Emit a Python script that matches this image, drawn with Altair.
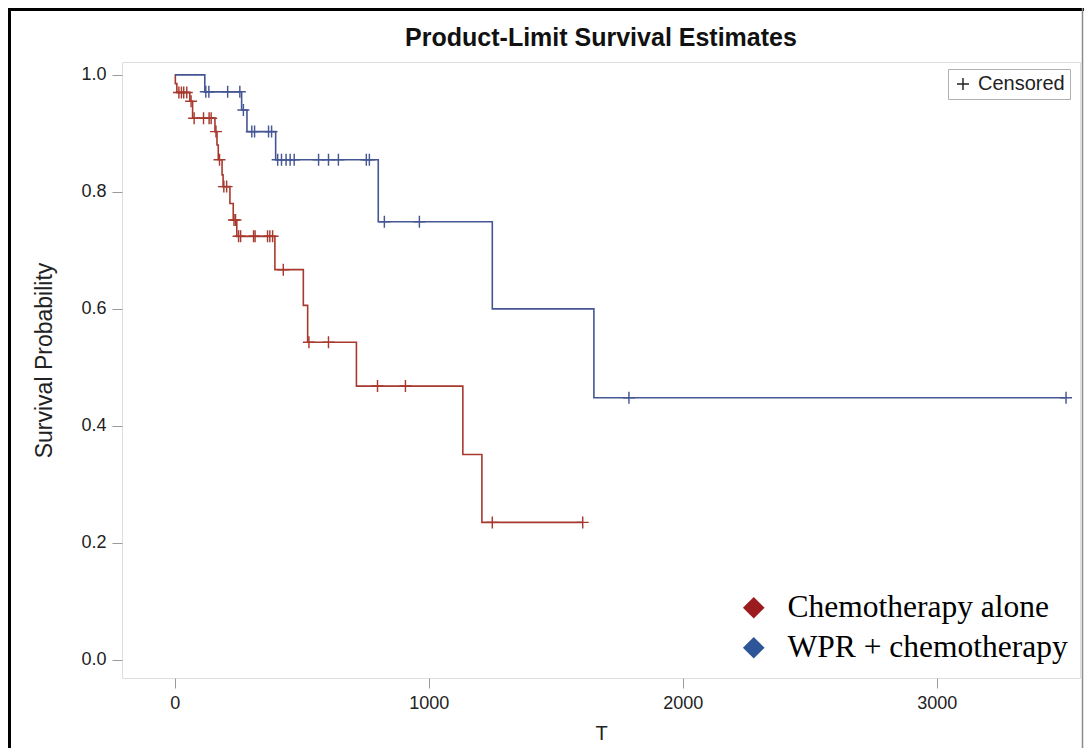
import altair as alt
import pandas as pd

# ---------------- data ----------------
groups = ["Chemotherapy alone", "WPR + chemotherapy"]
line_colors = ["#A8392E", "#445694"]
legend_colors = ["#9B1B1E", "#2E5597"]

# Chemotherapy alone: event times and survival after each event
red_event_t = [2, 8, 59, 70, 158, 166, 171, 186, 190, 217, 230, 244, 394, 506, 523, 715, 1134, 1209]
red_event_s = [0.985, 0.970, 0.955, 0.926, 0.903, 0.880, 0.855, 0.829, 0.809, 0.780, 0.752, 0.724,
               0.667, 0.606, 0.543, 0.468, 0.351, 0.235]
red_censor_t = [16, 26, 35, 47, 64, 76, 113, 135, 143, 162, 176, 193, 204, 233, 239,
                251, 259, 310, 316, 365, 374, 385, 427, 528, 605, 798, 908, 1250, 1606]

# WPR + chemotherapy
blue_event_t = [118, 263, 284, 397, 801, 1250, 1650]
blue_event_s = [0.971, 0.940, 0.903, 0.855, 0.749, 0.600, 0.448]
blue_censor_t = [122, 134, 208, 256, 270, 303, 314, 369, 381, 405, 420, 438, 454, 470,
                 566, 605, 644, 754, 766, 825, 963, 1788, 3509]

x_ticks = [0, 1000, 2000, 3000]
y_ticks = [0.0, 0.2, 0.4, 0.6, 0.8, 1.0]
title_text = "Product-Limit Survival Estimates"


def surv_at(t, ev_t, ev_s):
    s = 1.0
    for et, es in zip(ev_t, ev_s):
        if et <= t:
            s = es
    return s


def build(group, ev_t, ev_s, cens_t):
    rows = [{"group": group, "T": 0, "S": 1.0}]
    for t, s in zip(ev_t, ev_s):
        rows.append({"group": group, "T": t, "S": s})
    rows.append({"group": group, "T": max(cens_t), "S": ev_s[-1]})
    cens = [{"group": group, "T": t, "S": surv_at(t, ev_t, ev_s), "kind": "Censored"} for t in cens_t]
    return rows, cens


r_line, r_cens = build(groups[0], red_event_t, red_event_s, red_censor_t)
b_line, b_cens = build(groups[1], blue_event_t, blue_event_s, blue_censor_t)
line_df = pd.DataFrame(r_line + b_line)
cens_df = pd.DataFrame(r_cens + b_cens)

# ---------------- chart ----------------
SANS = "Liberation Sans, Arial, sans-serif"
SERIF = "Liberation Serif, Times New Roman, serif"
W, H = 958, 616

x_scale = alt.Scale(domain=[-208, 3564], nice=False, zero=False)
y_scale = alt.Scale(domain=[-0.031, 1.022], nice=False, zero=False)

x_axis = alt.Axis(values=x_ticks, format="d", title="T", grid=False, domain=False, tickSize=10,
                  tickColor="#9a9a9a", labelFont=SANS, labelFontSize=18, labelColor="#222222",
                  labelPadding=6, titleFont=SANS, titleFontSize=20, titleFontWeight="normal",
                  titleColor="#222222", titlePadding=11)
y_axis = alt.Axis(values=y_ticks, format=".1f", title="Survival Probability", grid=False,
                  domain=False, tickSize=10, tickColor="#9a9a9a", labelFont=SANS,
                  labelFontSize=18, labelColor="#222222", labelPadding=6, titleFont=SANS,
                  titleFontSize=23, titleFontWeight="normal", titleColor="#222222",
                  titlePadding=24, titleY=298)

X = alt.X("T:Q", scale=x_scale, axis=x_axis)
Y = alt.Y("S:Q", scale=y_scale, axis=y_axis)

lines = alt.Chart(line_df).mark_line(interpolate="step-after", strokeWidth=1.6).encode(
    x=X, y=Y,
    color=alt.Color("group:N", scale=alt.Scale(domain=groups, range=line_colors), legend=None),
)

cross = "M-1,-0.12H-0.12V-1H0.12V-0.12H1V0.12H0.12V1H-0.12V0.12H-1Z"
censors = alt.Chart(cens_df).mark_point(filled=True, size=144, opacity=1, strokeWidth=0).encode(
    x=X, y=Y,
    color=alt.Color("group:N", scale=alt.Scale(domain=groups, range=line_colors), legend=None),
    shape=alt.Shape("kind:N", scale=alt.Scale(domain=["Censored"], range=[cross]),
                    legend=alt.Legend(title=None, orient="none", legendX=826, legendY=7,
                                      strokeColor="#b0b0b0", padding=5, labelFont=SANS,
                                      labelFontSize=20, labelColor="#222222", labelLimit=0,
                                      symbolFillColor="#222222", symbolStrokeWidth=0,
                                      symbolSize=144, labelOffset=5)),
)

legend_layer = alt.Chart(line_df).mark_point(filled=True, opacity=0, shape="diamond").encode(
    x=X, y=Y,
    color=alt.Color("group:N", scale=alt.Scale(domain=groups, range=legend_colors),
                    legend=alt.Legend(title=None, orient="none", legendX=616, legendY=530,
                                      symbolType="diamond", symbolSize=470, symbolOpacity=1,
                                      symbolStrokeWidth=0, labelFont=SERIF, labelLimit=0,
                                      labelFontSize=31.5, labelColor="#000000", rowPadding=7,
                                      padding=0, labelOffset=18)),
)

title = alt.Chart(pd.DataFrame({"t": [title_text]})).mark_text(
    font=SANS, fontSize=25, fontWeight="bold", color="#111111", baseline="alphabetic",
    align="center").encode(text="t:N", x=alt.value(W / 2), y=alt.value(-16))

left_border = alt.Chart(pd.DataFrame({"a": [0]})).mark_rule(
    color="#000000", strokeWidth=3).encode(
    x=alt.value(-112.5), y=alt.value(-54), y2=alt.value(H + 80))
top_border = alt.Chart(pd.DataFrame({"a": [0]})).mark_rule(
    color="#000000", strokeWidth=3).encode(
    x=alt.value(-114), x2=alt.value(W + 4), y=alt.value(-52.5))
right_border = alt.Chart(pd.DataFrame({"a": [0]})).mark_rule(
    color="#8c8c8c", strokeWidth=1.5).encode(
    x=alt.value(W + 2.5), y=alt.value(-54), y2=alt.value(H + 80))

chart = alt.layer(lines, censors, legend_layer, title, left_border, top_border,
                  right_border).resolve_scale(
    color="independent"
).properties(
    width=W, height=H,
    autosize=alt.AutoSizeParams(type="none"),
    padding={"left": 114, "top": 54, "right": 4, "bottom": 70},
).configure_view(stroke="#a6a6a6", strokeWidth=1.2).configure(background="white")

chart.save("out.html", embed_options={"renderer": "svg", "actions": False})
